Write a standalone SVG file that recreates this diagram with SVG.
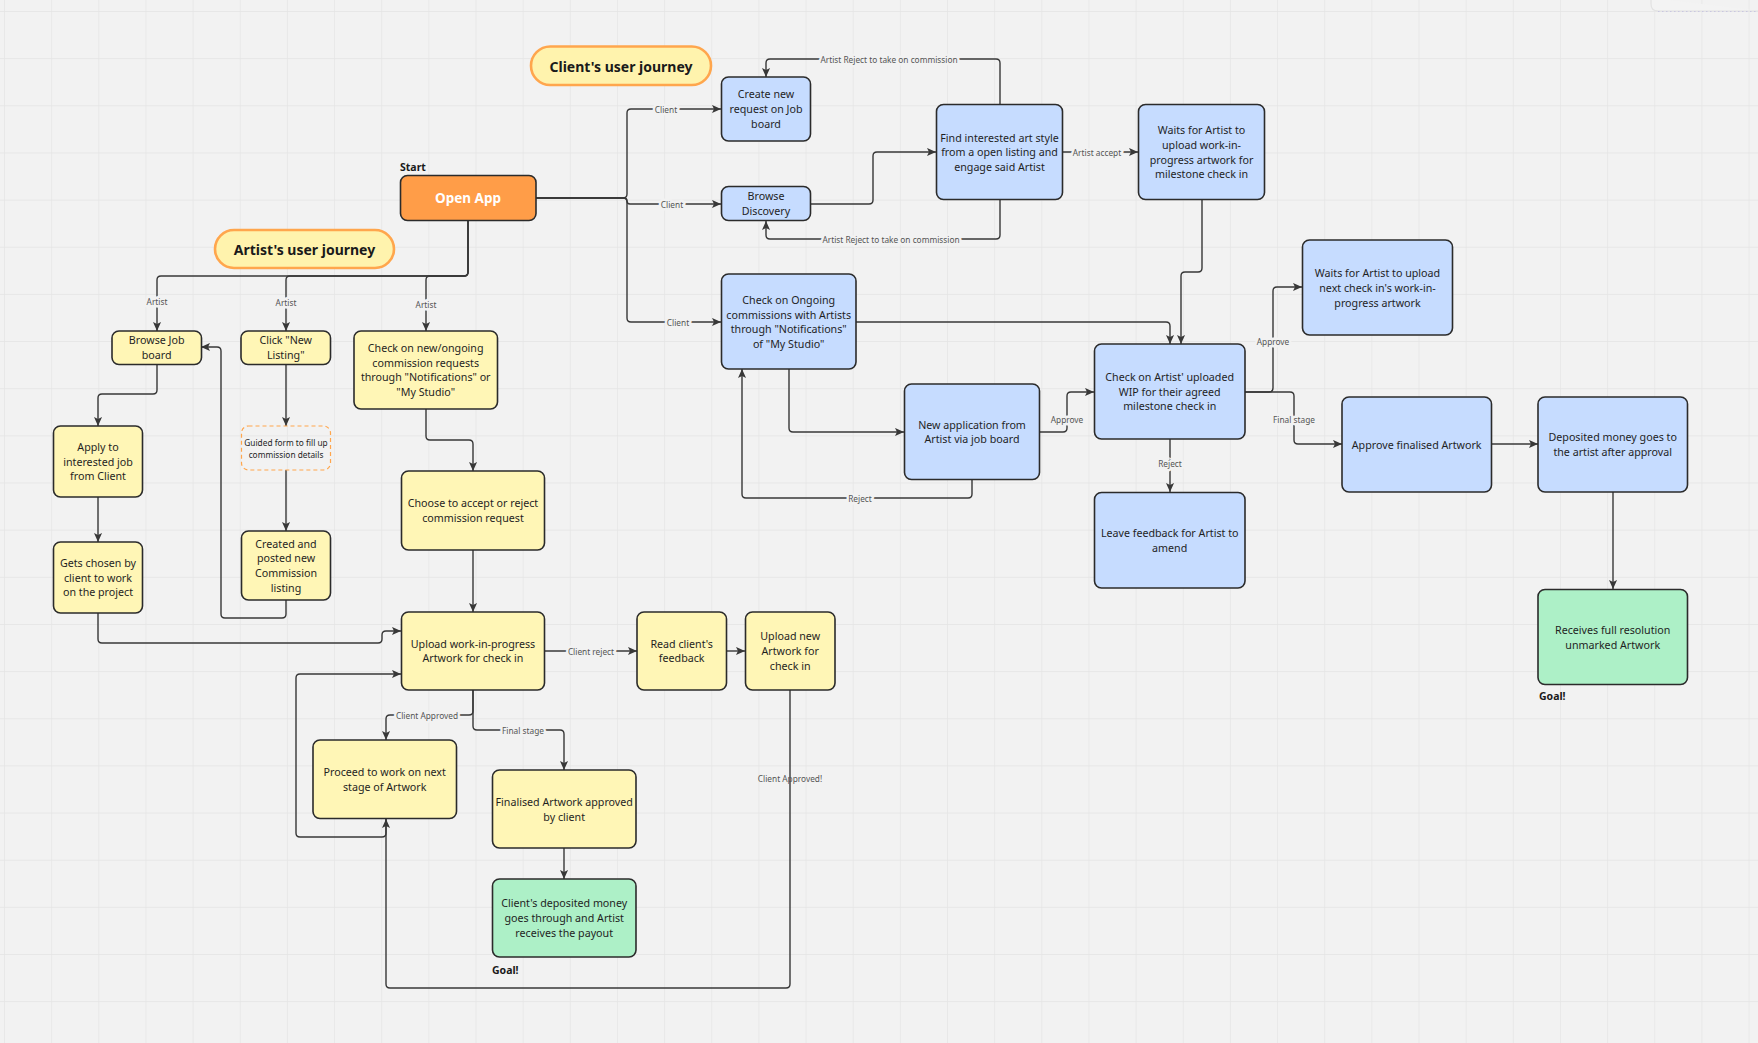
<svg xmlns="http://www.w3.org/2000/svg" width="1758" height="1043" viewBox="0 0 1758 1043">
<style>
.n{stroke:#2b2b2b;stroke-width:1.6}
.y{fill:#fff6b6}.b{fill:#c6dcff}.g{fill:#adf0c7}
.t{font-family:"Noto Sans","Liberation Sans",sans-serif;font-size:10.7px;fill:#1f1f1f;text-anchor:middle;dominant-baseline:central}
.c{fill:none;stroke:#383838;stroke-width:1.4;marker-end:url(#ah)}
.c0{fill:none;stroke:#383838;stroke-width:1.4}
.l{font-family:"Noto Sans","Liberation Sans",sans-serif;font-size:8.3px;fill:#555;text-anchor:middle;dominant-baseline:central;stroke:#f2f2f2;stroke-width:5;paint-order:stroke;stroke-linejoin:round}
.ln{font-family:"Noto Sans","Liberation Sans",sans-serif;font-size:8.3px;fill:#555;text-anchor:middle;dominant-baseline:central}
.pill{fill:#fff3ad;stroke:#ffa64d;stroke-width:2.6}
.pt{font-family:"Noto Sans","Liberation Sans",sans-serif;font-size:14px;font-weight:bold;fill:#1a1a1a;text-anchor:middle;dominant-baseline:central}
.bt{font-family:"Noto Sans","Liberation Sans",sans-serif;font-size:10.5px;font-weight:bold;fill:#1a1a1a}
</style>
<defs>
<pattern id="grid" patternUnits="userSpaceOnUse" x="4" y="11" width="47.15" height="47.15">
<path d="M0 0H47.15M0 0V47.15" stroke="#e4e4e4" stroke-width="1.4" fill="none"/>
</pattern>
<marker id="ah" viewBox="0 0 10 10" refX="10" refY="5" markerWidth="9" markerHeight="9" markerUnits="userSpaceOnUse" orient="auto">
<path d="M0 0.5L10 5L0 9.5L2.2 5z" fill="#383838"/>
</marker>
</defs>
<rect width="1758" height="1043" fill="#f2f2f2"/>
<rect width="1758" height="1043" fill="url(#grid)"/>
<path d="M1651 -2V4Q1651 11 1658 11H1760" fill="#f3f3f3" stroke="#e2e2e2" stroke-width="1.2"/>
<path d="M1658 11.5H1758" stroke="#c9c6e0" stroke-width="1" stroke-dasharray="1.5 2.5"/>

<g id="connectors">
<path class="c" d="M536 198H623Q627 198 627 194V113Q627 109 631 109H721"/>
<path class="c" d="M536 198H624Q627 198 627 201Q627 204 630 204H721"/>
<path class="c" d="M536 198H623Q627 198 627 202V318Q627 322 631 322H721"/>
<path class="c" d="M1000 104V63Q1000 59 996 59H770Q766 59 766 63V77"/>
<path class="c" d="M1000 200V235Q1000 239 996 239H770Q766 239 766 235V221"/>
<path class="c" d="M811 204H869Q873 204 873 200V156Q873 152 877 152H936"/>
<path class="c" d="M1063 152H1138"/>
<path class="c" d="M1202 200V268Q1202 272 1198 272H1185Q1181 272 1181 276V344"/>
<path class="c" d="M856 322H1166Q1170 322 1170 326V344"/>
<path class="c" d="M789 369V428Q789 432 793 432H904"/>
<path class="c" d="M972 480V494Q972 498 968 498H746Q742 498 742 494V369"/>
<path class="c" d="M1040 432H1063Q1067 432 1067 428V396Q1067 392 1071 392H1094"/>
<path class="c" d="M1245 392H1269Q1273 392 1273 388V291Q1273 287 1277 287H1302"/>
<path class="c" d="M1245 392H1290Q1294 392 1294 396V440Q1294 444 1298 444H1342"/>
<path class="c" d="M1170 439V492"/>
<path class="c" d="M1492 444H1538"/>
<path class="c" d="M1613 492V589"/>

<path class="c" d="M468 221V272Q468 276 464 276H161Q157 276 157 280V331"/>
<path class="c" d="M468 221V272Q468 276 464 276H290Q286 276 286 280V331"/>
<path class="c" d="M468 221V272Q468 276 464 276H430Q426 276 426 280V331"/>
<path class="c" d="M157 364V390Q157 394 153 394H102Q98 394 98 398V426"/>
<path class="c" d="M98 497V542"/>
<path class="c" d="M286 364V426"/>
<path class="c" d="M286 470V531"/>
<path class="c" d="M286 600V614Q286 618 282 618H225Q221 618 221 614V351Q221 347 217 347H201"/>
<path class="c" d="M426 409V436Q426 440 430 440H469Q473 440 473 444V471"/>
<path class="c" d="M473 550V612"/>
<path class="c" d="M98 613V639Q98 643 102 643H378Q382 643 382 639V635Q382 631 386 631H401"/>
<path class="c" d="M545 651H637"/>
<path class="c" d="M727 651H745"/>
<path class="c" d="M473 690V711Q473 715 469 715H390Q386 715 386 719V740"/>
<path class="c" d="M473 690V726Q473 730 477 730H560Q564 730 564 734V770"/>
<path class="c" d="M564 848V879"/>
<path class="c" d="M386 819V833Q386 837 382 837H300Q296 837 296 833V678Q296 674 300 674H401"/>
<path class="c" d="M790 690V984Q790 988 786 988H390Q386 988 386 984V819"/>

<text class="l" x="666" y="109">Client</text>
<text class="l" x="672" y="204">Client</text>
<text class="l" x="678" y="322">Client</text>
<text class="l" x="889" y="59">Artist Reject to take on commission</text>
<text class="l" x="891" y="239">Artist Reject to take on commission</text>
<text class="l" x="1097" y="152">Artist accept</text>
<text class="l" x="860" y="498">Reject</text>
<text class="l" x="1067" y="419">Approve</text>
<text class="l" x="1273" y="341">Approve</text>
<text class="l" x="1294" y="419">Final stage</text>
<text class="l" x="1170" y="463">Reject</text>
<text class="l" x="157" y="301">Artist</text>
<text class="l" x="286" y="302">Artist</text>
<text class="l" x="426" y="304">Artist</text>
<text class="l" x="591" y="651">Client reject</text>
<text class="l" x="427" y="715">Client Approved</text>
<text class="l" x="523" y="730">Final stage</text>
<text class="ln" x="790" y="778">Client Approved!</text>
</g>

<g id="client-journey">
<rect class="pill" x="531" y="46.5" width="180" height="38.5" rx="19.2"/>
<text class="pt" x="621" y="66">Client's user journey</text>
</g>
<g id="artist-journey">
<rect class="pill" x="215" y="230" width="179" height="38" rx="19"/>
<text class="pt" x="304.5" y="249">Artist's user journey</text>
</g>
<g id="start">
<text class="bt" x="400" y="171">Start</text>
<rect class="n" x="400.5" y="175.5" width="135.5" height="45" rx="7" fill="#ff9d48"/>
<text class="pt" x="468" y="198" style="fill:#fff;font-size:13.5px">Open App</text>
</g>

<g id="create-request"><rect class="n b" x="721.5" y="77" width="89" height="64" rx="7"/>
<text class="t"><tspan x="766" y="94.3">Create new</tspan><tspan x="766" y="109">request on Job</tspan><tspan x="766" y="123.7">board</tspan></text></g>
<g id="browse-discovery"><rect class="n b" x="721.5" y="186.5" width="89" height="34" rx="7"/>
<text class="t"><tspan x="766" y="196.2">Browse</tspan><tspan x="766" y="210.9">Discovery</tspan></text></g>
<g id="find-style"><rect class="n b" x="936.5" y="104.5" width="126" height="95" rx="7"/>
<text class="t"><tspan x="999.5" y="137.7">Find interested art style</tspan><tspan x="999.5" y="152.3">from a open listing and</tspan><tspan x="999.5" y="167">engage said Artist</tspan></text></g>
<g id="waits-wip"><rect class="n b" x="1138.5" y="104.5" width="126" height="95" rx="7"/>
<text class="t"><tspan x="1201.5" y="130.3">Waits for Artist to</tspan><tspan x="1201.5" y="145">upload work-in-</tspan><tspan x="1201.5" y="159.7">progress artwork for</tspan><tspan x="1201.5" y="174.4">milestone check in</tspan></text></g>
<g id="check-ongoing"><rect class="n b" x="721.5" y="274" width="134.5" height="95" rx="7"/>
<text class="t"><tspan x="788.7" y="300">Check on Ongoing</tspan><tspan x="788.7" y="314.7">commissions with Artists</tspan><tspan x="788.7" y="329.3">through "Notifications"</tspan><tspan x="788.7" y="344">of "My Studio"</tspan></text></g>
<g id="new-application"><rect class="n b" x="904.5" y="384" width="135" height="95.5" rx="7"/>
<text class="t"><tspan x="972" y="424.7">New application from</tspan><tspan x="972" y="439.3">Artist via job board</tspan></text></g>
<g id="check-wip"><rect class="n b" x="1094.5" y="344" width="150.5" height="95" rx="7"/>
<text class="t"><tspan x="1169.7" y="377">Check on Artist' uploaded</tspan><tspan x="1169.7" y="391.7">WIP for their agreed</tspan><tspan x="1169.7" y="406.4">milestone check in</tspan></text></g>
<g id="waits-next"><rect class="n b" x="1302.5" y="240" width="150" height="95" rx="7"/>
<text class="t"><tspan x="1377.5" y="273.3">Waits for Artist to upload</tspan><tspan x="1377.5" y="288">next check in's work-in-</tspan><tspan x="1377.5" y="302.7">progress artwork</tspan></text></g>
<g id="leave-feedback"><rect class="n b" x="1094.5" y="492.5" width="150.5" height="95.5" rx="7"/>
<text class="t"><tspan x="1169.7" y="533.3">Leave feedback for Artist to</tspan><tspan x="1169.7" y="548">amend</tspan></text></g>
<g id="approve-final"><rect class="n b" x="1342" y="397" width="149.5" height="95" rx="7"/>
<text class="t"><tspan x="1416.7" y="444.5">Approve finalised Artwork</tspan></text></g>
<g id="deposited"><rect class="n b" x="1538" y="397" width="149.5" height="95" rx="7"/>
<text class="t"><tspan x="1612.7" y="437.3">Deposited money goes to</tspan><tspan x="1612.7" y="452">the artist after approval</tspan></text></g>
<g id="receives"><rect class="n g" x="1538" y="589.5" width="149.5" height="95" rx="7"/>
<text class="t"><tspan x="1612.7" y="630">Receives full resolution</tspan><tspan x="1612.7" y="644.7">unmarked Artwork</tspan></text>
<text class="bt" x="1539" y="700">Goal!</text></g>

<g id="browse-job"><rect class="n y" x="112" y="331" width="89.5" height="33.5" rx="7"/>
<text class="t"><tspan x="156.7" y="340.2">Browse Job</tspan><tspan x="156.7" y="354.9">board</tspan></text></g>
<g id="click-new"><rect class="n y" x="241" y="331" width="89.5" height="33.5" rx="7"/>
<text class="t"><tspan x="285.7" y="340.2">Click "New</tspan><tspan x="285.7" y="354.9">Listing"</tspan></text></g>
<g id="check-new"><rect class="n y" x="354" y="331" width="143.5" height="78" rx="7"/>
<text class="t"><tspan x="425.7" y="348">Check on new/ongoing</tspan><tspan x="425.7" y="362.7">commission requests</tspan><tspan x="425.7" y="377.3">through "Notifications" or</tspan><tspan x="425.7" y="392">"My Studio"</tspan></text></g>
<g id="apply"><rect class="n y" x="53.5" y="426" width="89" height="71" rx="7"/>
<text class="t"><tspan x="98" y="446.8">Apply to</tspan><tspan x="98" y="461.5">interested job</tspan><tspan x="98" y="476.2">from Client</tspan></text></g>
<g id="guided-form"><rect x="241.5" y="426" width="89" height="44" rx="7" fill="none" stroke="#ffa64d" stroke-width="1.2" stroke-dasharray="4 3"/>
<text class="t" style="font-size:8.3px"><tspan x="286" y="442">Guided form to fill up</tspan><tspan x="286" y="453.7">commission details</tspan></text></g>
<g id="created-listing"><rect class="n y" x="241.5" y="531" width="89" height="69" rx="7"/>
<text class="t"><tspan x="286" y="543.5">Created and</tspan><tspan x="286" y="558.2">posted new</tspan><tspan x="286" y="572.9">Commission</tspan><tspan x="286" y="587.6">listing</tspan></text></g>
<g id="gets-chosen"><rect class="n y" x="53.5" y="542" width="89" height="71" rx="7"/>
<text class="t"><tspan x="98" y="562.8">Gets chosen by</tspan><tspan x="98" y="577.5">client to work</tspan><tspan x="98" y="592.2">on the project</tspan></text></g>
<g id="choose"><rect class="n y" x="401.5" y="471" width="143" height="79" rx="7"/>
<text class="t"><tspan x="473" y="503.2">Choose to accept or reject</tspan><tspan x="473" y="517.9">commission request</tspan></text></g>
<g id="upload-wip"><rect class="n y" x="401.5" y="612" width="143" height="78" rx="7"/>
<text class="t"><tspan x="473" y="643.7">Upload work-in-progress</tspan><tspan x="473" y="658.4">Artwork for check in</tspan></text></g>
<g id="read-feedback"><rect class="n y" x="637" y="612" width="89.5" height="78" rx="7"/>
<text class="t"><tspan x="681.7" y="643.7">Read client's</tspan><tspan x="681.7" y="658.4">feedback</tspan></text></g>
<g id="upload-new"><rect class="n y" x="745.5" y="612" width="89.5" height="78" rx="7"/>
<text class="t"><tspan x="790.2" y="636.3">Upload new</tspan><tspan x="790.2" y="651">Artwork for</tspan><tspan x="790.2" y="665.7">check in</tspan></text></g>
<g id="proceed"><rect class="n y" x="313" y="740" width="143.5" height="78.5" rx="7"/>
<text class="t"><tspan x="384.7" y="772">Proceed to work on next</tspan><tspan x="384.7" y="786.7">stage of Artwork</tspan></text></g>
<g id="finalised"><rect class="n y" x="492.5" y="770" width="143.5" height="78" rx="7"/>
<text class="t"><tspan x="564.2" y="802">Finalised Artwork approved</tspan><tspan x="564.2" y="816.7">by client</tspan></text></g>
<g id="payout"><rect class="n g" x="492.5" y="879" width="143.5" height="78" rx="7"/>
<text class="t"><tspan x="564.2" y="903.3">Client's deposited money</tspan><tspan x="564.2" y="918">goes through and Artist</tspan><tspan x="564.2" y="932.7">receives the payout</tspan></text>
<text class="bt" x="492" y="974">Goal!</text></g>
</svg>
